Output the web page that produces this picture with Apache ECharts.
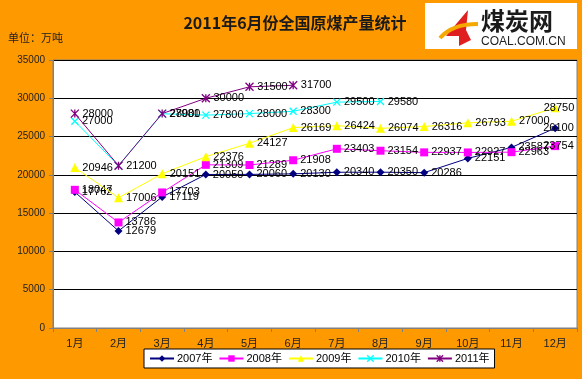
<!DOCTYPE html>
<html><head><meta charset="utf-8">
<script src="https://cdn.jsdelivr.net/npm/echarts@6/dist/echarts.min.js"></script>
<style>html,body{margin:0;padding:0;background:#FF9900;}#c{width:582px;height:379px;}</style>
</head><body><div id="c"></div>
<script>
var months = ['1月','2月','3月','4月','5月','6月','7月','8月','9月','10月','11月','12月'];
var seriesNames = ['2007年','2008年','2009年','2010年','2011年'];
var y2007 = [17762, 12679, 17119, 20050, 20060, 20130, 20340, 20350, 20286, 22151, 23587, 26100];
var y2008 = [18047, 13786, 17703, 21309, 21289, 21908, 23403, 23154, 22937, 22927, 22963, 23754];
var y2009 = [20946, 17006, 20151, 22376, 24127, 26169, 26424, 26074, 26316, 26793, 27000, 28750];
var y2010 = [27000, 21200, 27981, 27800, 28000, 28300, 29500, 29580];
var y2011 = [28000, 21200, 28000, 30000, 31500, 31700];
var yTicks = {min: 0, max: 35000, interval: 5000};

var font = 'Liberation Sans, "Noto Sans CJK SC", sans-serif';
var colors = ['#000080', '#FF00FF', '#FFFF00', '#00FFFF', '#800080'];
var symbols = ['diamond', 'rect', 'triangle', 'path://M0,0L10,10M10,0L0,10', 'path://M0,0L10,10M10,0L0,10M5,0L5,10'];
var sizes = [8, 8, 9, 7, 8];
var datas = [y2007, y2008, y2009, y2010, y2011];

var series = datas.map(function (d, i) {
  var stroke = i >= 3;
  var items = d.map(function (v, j) {
    // 2010 Feb label coincides with 2011 Feb label; only one is drawn in the reference
    if (i === 3 && j === 1) return {value: v, label: {show: false}};
    // last-month labels are pulled back inside the chart, as in the reference
    if (j === 11) return {value: v, label: {offset: [-19, 0]}};
    return v;
  });
  return {
    name: seriesNames[i], type: 'line', data: items,
    symbol: symbols[i], symbolSize: sizes[i], showAllSymbol: true,
    lineStyle: {color: colors[i], width: 1},
    itemStyle: stroke ? {color: 'rgba(0,0,0,0)', borderColor: colors[i], borderWidth: 1.3} : {color: colors[i]},
    label: {show: true, position: 'right', distance: 3, color: '#000', fontSize: 11, fontFamily: font, formatter: '{c}'},
    emphasis: {disabled: true},
    animation: false, z: 2 + i
  };
});

var chart = echarts.init(document.getElementById('c'), null, {renderer: 'canvas'});
chart.setOption({
  backgroundColor: '#FF9900',
  animation: false,
  color: colors,
  title: {text: '2011年6月份全国原煤产量统计', left: 290, top: 10, textAlign: 'center',
    textStyle: {fontFamily: '"Noto Sans CJK SC", serif', fontSize: 16, fontWeight: 'bold', color: '#1a1a1a'}},
  grid: {left: 53, right: 5, top: 60, bottom: 51, show: true, backgroundColor: '#FFFFFF', borderColor: '#808080', borderWidth: 1},
  legend: {
    data: seriesNames.map(function (n, i) {
      return {name: n, itemStyle: i >= 3 ? {color: 'rgba(0,0,0,0)', borderColor: colors[i], borderWidth: 1.3} : {color: colors[i]}};
    }),
    left: 144, top: 349, itemWidth: 24, itemHeight: 8, itemGap: 6,
    backgroundColor: '#FFFFFF', borderColor: '#000', borderWidth: 1, padding: [4, 5, 4, 5],
    textStyle: {fontFamily: font, fontSize: 11, color: '#000', padding: [0, 0, 0, -2]}
  },
  xAxis: {type: 'category', data: months, boundaryGap: true,
    axisLine: {lineStyle: {color: '#808080'}},
    axisTick: {show: true, lineStyle: {color: '#808080'}, length: 4},
    axisLabel: {fontFamily: font, fontSize: 11, color: '#222', margin: 10}
  },
  yAxis: {type: 'value', min: yTicks.min, max: yTicks.max, interval: yTicks.interval,
    axisLine: {show: true, lineStyle: {color: '#808080'}},
    axisTick: {show: true, inside: false, length: 4, lineStyle: {color: '#808080'}},
    axisLabel: {fontFamily: font, fontSize: 10, color: '#222', margin: 8, formatter: function (v) { return String(v); }},
    splitLine: {lineStyle: {color: '#000', width: 1}}
  },
  graphic: [
    {type: 'text', left: 8, top: 32, style: {text: '单位：万吨', font: '11px "Noto Sans CJK SC"', fill: '#222'}},
    {type: 'rect', shape: {x: 425, y: 3, width: 152, height: 46}, style: {fill: '#FFFFFF'}},
    {type: 'polygon', shape: {points: [[468, 10], [446, 36], [459, 36], [459, 46], [471, 40], [466, 30]]}, style: {fill: '#E02020'}},
    {type: 'bezierCurve', shape: {x1: 440, y1: 38, cpx1: 452, cpy1: 24, x2: 478, y2: 24}, style: {stroke: '#F5A800', lineWidth: 4, fill: null}},
    {type: 'text', left: 481, top: 9, style: {text: '煤炭网', font: 'bold 24px "Noto Sans CJK SC"', fill: '#1a1a1a'}},
    {type: 'text', left: 481, top: 36, style: {text: 'COAL.COM.CN', font: '12px Liberation Sans', fill: '#222'}}
  ],
  series: series
});
</script></body></html>
